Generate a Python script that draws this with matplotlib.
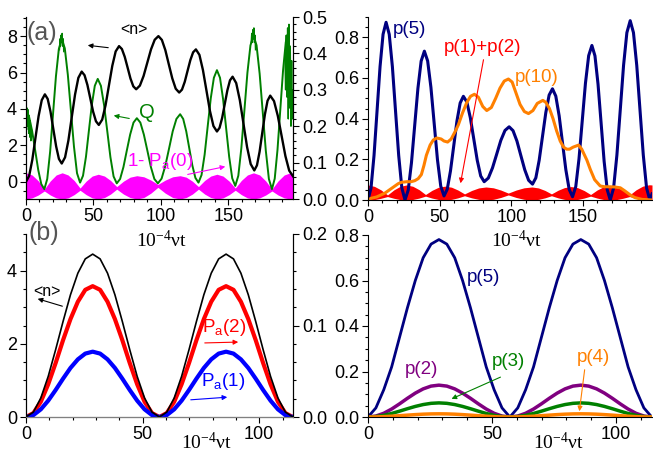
import matplotlib.pyplot as plt
from matplotlib.patches import FancyArrowPatch
import numpy as np

plt.rcParams['font.family'] = ['Liberation Sans', 'DejaVu Sans']
plt.rcParams['mathtext.fontset'] = 'custom'

# ---- panel (a), left : <n>, Q and 1-Pa(0) ----
t_n = [0, 2.33, 4.67, 7, 9.33, 11.67, 14, 16.08, 18.17, 20.25, 22.33, 24.42, 26.5,
       28.97, 31.43, 33.9, 36.37, 38.83, 41.3, 43.42, 45.53, 47.65, 49.77, 51.88, 54,
       56.5, 59, 61.5, 64, 66.5, 69, 71.12, 73.23, 75.35, 77.47, 79.58, 81.7,
       84.45, 87.2, 89.95, 92.7, 95.45, 98.2, 100.77, 103.33, 105.9, 108.47, 111.03, 113.6,
       115.67, 117.73, 119.8, 121.87, 123.93, 126, 128.6, 131.2, 133.8, 136.4, 139, 141.6,
       143.53, 145.47, 147.4, 149.33, 151.27, 153.2, 155.88, 158.57, 161.25, 163.93, 166.62, 169.3,
       171.27, 173.23, 175.2, 177.17, 179.13, 181.1, 183.92, 186.73, 189.55, 192.37, 195.18, 198]
n_a = [0.0, 0.32, 1.2, 2.4, 3.6, 4.48, 4.8, 4.55, 3.85, 2.9, 1.95, 1.25, 1.0,
       1.34, 2.26, 3.53, 4.79, 5.71, 6.05, 5.85, 5.32, 4.59, 3.85, 3.32, 3.12,
       3.41, 4.20, 5.29, 6.37, 7.16, 7.45, 7.29, 6.86, 6.27, 5.67, 5.24, 5.08,
       5.28, 5.81, 6.54, 7.27, 7.80, 8.0, 7.79, 7.23, 6.45, 5.68, 5.11, 4.9,
       5.06, 5.49, 6.09, 6.68, 7.11, 7.27, 6.97, 6.14, 5.02, 3.89, 3.06, 2.76,
       2.96, 3.51, 4.27, 5.02, 5.57, 5.77, 5.42, 4.48, 3.20, 1.91, 0.97, 0.62,
       0.90, 1.65, 2.68, 3.70, 4.45, 4.73, 4.43, 3.62, 2.52, 1.41, 0.61, 0.3]

t_q = [0, 2.27, 4.53, 6.8, 9.07, 11.33, 13.6, 15.75, 17.9, 20.05, 22.2, 24.35, 26.5,
       28.77, 31.03, 33.3, 35.57, 37.83, 40.1, 42.28, 44.47, 46.65, 48.83, 51.02, 53.2,
       55.55, 57.9, 60.25, 62.6, 64.95, 67.3, 69.78, 72.27, 74.75, 77.23, 79.72, 82.2,
       84.8, 87.4, 90, 92.6, 95.2, 97.8, 100.55, 103.3, 106.05, 108.8, 111.55, 114.3,
       116.57, 118.83, 121.1, 123.37, 125.63, 127.9, 130.18, 132.47, 134.75, 137.03, 139.32, 141.6,
       143.87, 146.13, 148.4, 150.67, 152.93, 155.2, 157.45, 159.7, 161.95, 164.2, 166.45, 168.7,
       170.98, 173.27, 175.55, 177.83, 180.12, 182.4, 184.45, 186.5, 188.55, 190.6, 192.65, 194.7]
q_a = [0.24, 0.226, 0.187, 0.134, 0.080, 0.041, 0.027, 0.055, 0.130, 0.234, 0.337, 0.412, 0.44,
       0.414, 0.341, 0.243, 0.144, 0.071, 0.045, 0.064, 0.116, 0.188, 0.259, 0.311, 0.33,
       0.311, 0.258, 0.187, 0.115, 0.062, 0.043, 0.055, 0.088, 0.133, 0.177, 0.210, 0.222,
       0.210, 0.177, 0.133, 0.088, 0.055, 0.043, 0.056, 0.091, 0.138, 0.186, 0.220, 0.233,
       0.220, 0.186, 0.139, 0.092, 0.058, 0.045, 0.066, 0.122, 0.200, 0.277, 0.333, 0.354,
       0.333, 0.275, 0.195, 0.116, 0.057, 0.036, 0.064, 0.140, 0.243, 0.347, 0.422, 0.45,
       0.422, 0.344, 0.239, 0.133, 0.055, 0.027, 0.056, 0.135, 0.244, 0.352, 0.431, 0.46]
# jagged parts of Q
t_qs = [0, 0.4, 0.8, 1.2, 1.6, 2.0, 2.4, 2.8, 3.2, 3.6, 4.0, np.nan,
        24.8, 25.2, 25.6, 26.0, 26.4, 26.8, 27.2, 27.6, 28.0, np.nan,
        167.0, 167.4, 167.8, 168.2, 168.6, 169.0, 169.4, 169.8, 170.2, np.nan,
        192.0, 192.5, 193.0, 193.5, 194.0, 194.5, 195.0, 195.5, 196.0, 196.5, 197.0, 197.5, 198.0]
q_s = [0.24, 0.19, 0.25, 0.2, 0.245, 0.18, 0.23, 0.17, 0.215, 0.16, 0.19, np.nan,
       0.41, 0.44, 0.42, 0.45, 0.43, 0.455, 0.42, 0.44, 0.405, np.nan,
       0.43, 0.455, 0.43, 0.465, 0.44, 0.47, 0.43, 0.45, 0.41, np.nan,
       0.40, 0.30, 0.45, 0.28, 0.47, 0.22, 0.48, 0.25, 0.42, 0.20, 0.38, 0.22, 0.30]

t_env = [0, 4.5, 9.1, 13.6, 18.0, 22.4, 26.8, 31.2, 35.7, 40.1, 44.6, 49.1, 53.6, 58.2, 62.7, 67.3,
         72.3, 77.2, 82.2, 87.4, 92.6, 97.8, 103.3, 108.8, 114.3, 118.8, 123.4, 127.9, 132.5, 137.0,
         141.6, 146.1, 150.7, 155.2, 159.7, 164.2, 168.7, 173.3, 177.8, 182.4, 186.9, 191.5, 196, 198]
pa0_top = [0.072, 0.066, 0.050, 0.027, 0.0495, 0.066, 0.072, 0.066, 0.051, 0.030, 0.049, 0.063,
           0.068, 0.063, 0.051, 0.034, 0.049, 0.060, 0.064, 0.061, 0.052, 0.040, 0.052, 0.061,
           0.064, 0.060, 0.049, 0.034, 0.051, 0.063, 0.068, 0.063, 0.049, 0.030, 0.051, 0.066,
           0.072, 0.066, 0.0495, 0.027, 0.0495, 0.066, 0.072, 0.071]
pa0_bot = [0, 0.003, 0.011, 0.022, 0.011, 0.003, 0, 0.003, 0.012, 0.024, 0.012, 0.003, 0, 0.004,
           0.0135, 0.027, 0.0135, 0.004, 0, 0.004, 0.016, 0.032, 0.016, 0.004, 0, 0.004, 0.0135,
           0.027, 0.0135, 0.004, 0, 0.003, 0.012, 0.024, 0.012, 0.003, 0, 0.003, 0.011, 0.022,
           0.011, 0.003, 0, 0]

# ---- panel (a), right : p(5), p(10), p(1)+p(2) ----
t_p5 = [0, 2.1, 4.2, 6.3, 8.4, 10.5, 12.6, 14.8, 17, 19.2, 21.4, 23.6, 25.8,
        28.05, 30.3, 32.55, 34.8, 37.05, 39.3, 41.58, 43.87, 46.15, 48.43, 50.72, 53,
        55.25, 57.5, 59.75, 62, 64.25, 66.5, 68.92, 71.33, 73.75, 76.17, 78.58, 81,
        83.9, 86.8, 89.7, 92.6, 95.5, 98.4, 101.12, 103.83, 106.55, 109.27, 111.98, 114.7,
        117.02, 119.33, 121.65, 123.97, 126.28, 128.6, 130.93, 133.27, 135.6, 137.93, 140.27, 142.6,
        144.85, 147.1, 149.35, 151.6, 153.85, 156.1, 158.23, 160.37, 162.5, 164.63, 166.77, 168.9,
        171.22, 173.53, 175.85, 178.17, 180.48, 182.8, 185.08, 187.37, 189.65, 191.93, 194.22,
        196.5, 198]
p5_a = [0, 0.059, 0.219, 0.437, 0.656, 0.815, 0.874, 0.815, 0.656, 0.437, 0.219, 0.059, 0,
        0.049, 0.183, 0.366, 0.549, 0.683, 0.732, 0.684, 0.554, 0.376, 0.198, 0.068, 0.02,
        0.053, 0.143, 0.265, 0.388, 0.477, 0.51, 0.482, 0.405, 0.30, 0.195, 0.118, 0.09,
        0.108, 0.158, 0.225, 0.293, 0.342, 0.36, 0.341, 0.290, 0.219, 0.149, 0.097, 0.078,
        0.109, 0.195, 0.3125, 0.430, 0.516, 0.547, 0.511, 0.414, 0.2815, 0.149, 0.052, 0.016,
        0.066, 0.202, 0.388, 0.574, 0.710, 0.76, 0.709, 0.570, 0.38, 0.19, 0.051, 0,
        0.059, 0.221, 0.441, 0.662, 0.823, 0.882, 0.823, 0.662, 0.441, 0.221, 0.059,
        0, 0.03]

t_p10 = [0, 2, 6, 11.6, 15, 18.6, 21, 23.3, 27, 30, 32.6, 35, 37.2, 39, 40.7, 43.3, 45.5, 47.9,
         51, 53, 55.5, 58, 61, 63, 66, 68.9, 71.5, 74.2, 77, 80, 82.8, 86, 89, 92, 95, 97.9, 100.5,
         103, 106, 109, 111.9, 115, 118, 121.9, 124, 126.5, 129, 131.5, 134, 136.3, 138.5, 140.5,
         143, 146.8, 149, 151, 152.6, 155, 158, 161.9, 165, 168.9, 172, 175.9, 179, 182.8, 186,
         191, 198]
p10_a = [0, 0.008, 0.015, 0.033, 0.05, 0.068, 0.08, 0.087, 0.09, 0.09, 0.095, 0.105, 0.125, 0.17,
         0.22, 0.27, 0.295, 0.305, 0.3, 0.29, 0.285, 0.3, 0.34, 0.37, 0.43, 0.48, 0.51, 0.52,
         0.505, 0.46, 0.44, 0.455, 0.5, 0.55, 0.585, 0.595, 0.58, 0.53, 0.47, 0.435, 0.425, 0.44,
         0.475, 0.49, 0.48, 0.45, 0.4, 0.34, 0.29, 0.26, 0.25, 0.25, 0.26, 0.27, 0.25, 0.22,
         0.196, 0.15, 0.1, 0.069, 0.065, 0.065, 0.064, 0.06, 0.045, 0.025, 0.012, 0.003, 0]

p12_top = [0.074, 0.067, 0.0495, 0.025, 0.0495, 0.067, 0.074, 0.0677, 0.0505, 0.027, 0.0475,
           0.0625, 0.068, 0.063, 0.049, 0.030, 0.047, 0.0594, 0.064, 0.060, 0.049, 0.034, 0.049,
           0.060, 0.064, 0.0594, 0.047, 0.030, 0.048, 0.061, 0.066, 0.0608, 0.0465, 0.027, 0.049,
           0.065, 0.071, 0.065, 0.048, 0.025, 0.050, 0.068, 0.075, 0.074]
p12_bot = [0, 0.002, 0.0085, 0.017, 0.0085, 0.002, 0, 0.0025, 0.0095, 0.019, 0.0095, 0.0025, 0,
           0.003, 0.0105, 0.021, 0.0105, 0.003, 0, 0.0033, 0.0125, 0.025, 0.0125, 0.0033, 0, 0.003,
           0.0105, 0.021, 0.0105, 0.003, 0, 0.0025, 0.0095, 0.019, 0.0095, 0.0025, 0, 0.002,
           0.0085, 0.017, 0.0085, 0.002, 0, 0]

# ---- panel (b) ----
t_b = [0, 3.18, 6.36, 9.53, 12.71, 15.89, 19.07, 22.24, 25.42, 28.6, 31.78, 34.96, 38.13,
       41.31, 44.49, 47.67, 50.84, 54.02, 57.2, 60.38, 63.56, 66.73, 69.91, 73.09, 76.27,
       79.44, 82.62, 85.8, 88.98, 92.16, 95.33, 98.51, 101.69, 104.87, 108.04, 111.22, 114.4]
n_b = [0, 0.134, 0.52, 1.11, 1.84, 2.61, 3.34, 3.93, 4.32, 4.45, 4.32, 3.93, 3.34,
       2.61, 1.84, 1.11, 0.52, 0.134, 0, 0.134, 0.52, 1.11, 1.84, 2.61, 3.34,
       3.93, 4.32, 4.45, 4.32, 3.93, 3.34, 2.61, 1.84, 1.11, 0.52, 0.134, 0]
pa2_b = [0, 0.0043, 0.0167, 0.0358, 0.059, 0.084, 0.107, 0.126, 0.139, 0.143, 0.139, 0.126, 0.107,
         0.084, 0.059, 0.0358, 0.0167, 0.0043, 0, 0.0043, 0.0167, 0.0358, 0.059, 0.084, 0.107,
         0.126, 0.139, 0.143, 0.139, 0.126, 0.107, 0.084, 0.059, 0.0358, 0.0167, 0.0043, 0]
pa1_b = [0, 0.0021, 0.0084, 0.0179, 0.0295, 0.0419, 0.0536, 0.063, 0.0693, 0.0714, 0.0693, 0.063,
         0.0536, 0.0419, 0.0295, 0.0179, 0.0084, 0.0021, 0, 0.0021, 0.0084, 0.0179, 0.0295,
         0.0419, 0.0536, 0.063, 0.0693, 0.0714, 0.0693, 0.063, 0.0536, 0.0419, 0.0295, 0.0179,
         0.0084, 0.0021, 0]
p5_b = [0, 0.04, 0.12, 0.22, 0.35, 0.48, 0.60, 0.70, 0.76, 0.78, 0.76, 0.70, 0.60,
        0.48, 0.35, 0.22, 0.12, 0.04, 0, 0.04, 0.12, 0.22, 0.35, 0.48, 0.60,
        0.70, 0.76, 0.78, 0.76, 0.70, 0.60, 0.48, 0.35, 0.22, 0.12, 0.04, 0]
p2_b = [0, 0.0042, 0.0164, 0.035, 0.0578, 0.0822, 0.105, 0.1236, 0.1358, 0.14, 0.1358, 0.1236,
        0.105, 0.0822, 0.0578, 0.035, 0.0164, 0.0042, 0, 0.0042, 0.0164, 0.035, 0.0578, 0.0822,
        0.105, 0.1236, 0.1358, 0.14, 0.1358, 0.1236, 0.105, 0.0822, 0.0578, 0.035, 0.0164,
        0.0042, 0]
p3_b = [0, 0.0019, 0.0073, 0.0155, 0.0256, 0.0364, 0.0465, 0.0547, 0.0601, 0.062, 0.0601, 0.0547,
        0.0465, 0.0364, 0.0256, 0.0155, 0.0073, 0.0019, 0, 0.0019, 0.0073, 0.0155, 0.0256,
        0.0364, 0.0465, 0.0547, 0.0601, 0.062, 0.0601, 0.0547, 0.0465, 0.0364, 0.0256, 0.0155,
        0.0073, 0.0019, 0]
p4_b = [0, 0.0004, 0.0016, 0.0035, 0.0058, 0.0082, 0.0105, 0.0124, 0.0136, 0.014, 0.0136, 0.0124,
        0.0105, 0.0082, 0.0058, 0.0035, 0.0016, 0.0004, 0, 0.0004, 0.0016, 0.0035, 0.0058,
        0.0082, 0.0105, 0.0124, 0.0136, 0.014, 0.0136, 0.0124, 0.0105, 0.0082, 0.0058, 0.0035,
        0.0016, 0.0004, 0]

W, H = 653, 453
fig = plt.figure(figsize=(W / 100, H / 100), dpi=100)


def box(x0, y0, x1, y1):
    # pixel box (top-left origin) -> figure fraction
    return [x0 / W, 1 - y1 / H, (x1 - x0) / W, (y1 - y0) / H]


def style(ax, right=False):
    ax.spines['top'].set_visible(False)
    if not right:
        ax.spines['right'].set_visible(False)
    ax.tick_params(which='both', direction='out', labelsize=13, width=0.8, pad=2.5)
    ax.tick_params(which='major', length=4)
    ax.tick_params(which='minor', length=2)
    ax.minorticks_on()


def note(txt, x, y, color, size=13.5, **kw):
    fig.text(x / W, 1 - y / H, txt, color=color, fontsize=size, va='center', **kw)


def arrow(x0, y0, x1, y1, color, lw=0.8):
    fig.add_artist(FancyArrowPatch(
        (x0 / W, 1 - y0 / H), (x1 / W, 1 - y1 / H), transform=fig.transFigure,
        arrowstyle='-|>', mutation_scale=7, color=color, lw=lw))


xlab = r'$\mathregular{10^{-4}}$νt'
serif = ['Liberation Serif', 'DejaVu Serif']

# (a) left
ax1 = fig.add_axes(box(26, 17, 293, 199))
ax1r = ax1.twinx()
ax1r.fill_between(t_env, pa0_bot, pa0_top, color='#ff00ff', lw=0)
ax1r.plot(t_q, q_a, color='#008000', lw=1.4)
ax1r.plot(t_qs, q_s, color='#008000', lw=1.0)
ax1.plot(t_n, n_a, color='black', lw=1.7, zorder=3)
ax1.set_zorder(ax1r.get_zorder() + 1)
ax1.patch.set_visible(False)
ax1.set_xlim(0, 198)
ax1.set_ylim(-0.95, 9.05)
ax1r.set_ylim(0, 0.5)
ax1.set_yticks([0, 2, 4, 6, 8])
ax1.set_xticks([0, 50, 100, 150])
ax1r.set_yticks([0, 0.1, 0.2, 0.3, 0.4, 0.5])
style(ax1, right=True)
style(ax1r, right=True)

# (a) right
ax2 = fig.add_axes(box(368, 17, 652, 200))
ax2.fill_between(t_env, p12_bot, p12_top, color='#ff0000', lw=0)
ax2.plot(t_p5, p5_a, color='#000080', lw=2.2)
ax2.plot(t_p10, p10_a, color='#ff8000', lw=2.2)
ax2.set_xlim(0, 198)
ax2.set_ylim(0, 0.9)
ax2.set_xticks([0, 50, 100, 150])
ax2.set_yticks([0, 0.2, 0.4, 0.6, 0.8])
style(ax2)

# (b) left
ax3 = fig.add_axes(box(26, 234, 293, 417))
ax3r = ax3.twinx()
ax3r.plot(t_b, pa2_b, color='#ff0000', lw=3)
ax3r.plot(t_b, pa1_b, color='#0000ff', lw=3)
ax3.plot(t_b, n_b, color='black', lw=1.2)
ax3.set_zorder(ax3r.get_zorder() + 1)
ax3.patch.set_visible(False)
ax3.set_xlim(0, 114.5)
ax3.set_ylim(0, 5)
ax3r.set_ylim(0, 0.2)
ax3.set_yticks([0, 2, 4])
ax3.set_xticks([0, 50, 100])
ax3r.set_yticks([0, 0.1, 0.2])
style(ax3, right=True)
style(ax3r, right=True)
ax3.spines['bottom'].set_color('#808080')

# (b) right
ax4 = fig.add_axes(box(368, 235, 652, 417))
ax4.plot(t_b, p5_b, color='#000080', lw=2)
ax4.plot(t_b, p2_b, color='#800080', lw=2.5)
ax4.plot(t_b, p3_b, color='#008000', lw=2.5)
ax4.plot(t_b, p4_b, color='#ff8000', lw=2.5)
ax4.set_xlim(0, 114.5)
ax4.set_ylim(0, 0.8)
ax4.set_xticks([0, 50, 100])
ax4.set_yticks([0, 0.2, 0.4, 0.6, 0.8])
style(ax4)

# labels
note('(a)', 27, 33, '#555555', size=18)
note('(b)', 29, 233, '#555555', size=18)
for x, y in [(161, 240), (516, 240), (206, 442), (558, 442)]:
    note(xlab, x, y, 'black', size=14, ha='center', family=serif)

note('<n>', 120, 29, 'black', size=11.5)
arrow(111, 48, 85, 45, 'black')
note('Q', 139, 113, '#008000', size=14.5)
arrow(132, 119, 111, 115, '#008000')
note(r'1- P$\mathregular{_a}$(0)', 127, 162, '#ff00ff')
arrow(185, 175, 228, 166, '#ff00ff')

note('p(5)', 393, 30, '#000080')
note('p(1)+p(2)', 444, 48, '#ff0000')
arrow(484, 57, 460, 186, '#ff0000')
note('p(10)', 515, 77, '#ff8000')

note('<n>', 33, 292, 'black', size=11.5)
arrow(65, 307, 35, 298, 'black')
note(r'P$\mathregular{_a}$(2)', 202, 328, '#ff0000')
arrow(202, 343, 241, 342, '#ff0000')
note(r'P$\mathregular{_a}$(1)', 201, 382, '#0000ff')
arrow(188, 400, 230, 397, '#0000ff')

note('p(5)', 467, 277, '#000080')
note('p(2)', 405, 370, '#800080')
note('p(3)', 492, 362, '#008000')
arrow(503, 376, 449, 400, '#008000')
note('p(4)', 577, 358, '#ff8000')
arrow(585, 367, 579, 414, '#ff8000')

fig.savefig('out.png', dpi=100)
